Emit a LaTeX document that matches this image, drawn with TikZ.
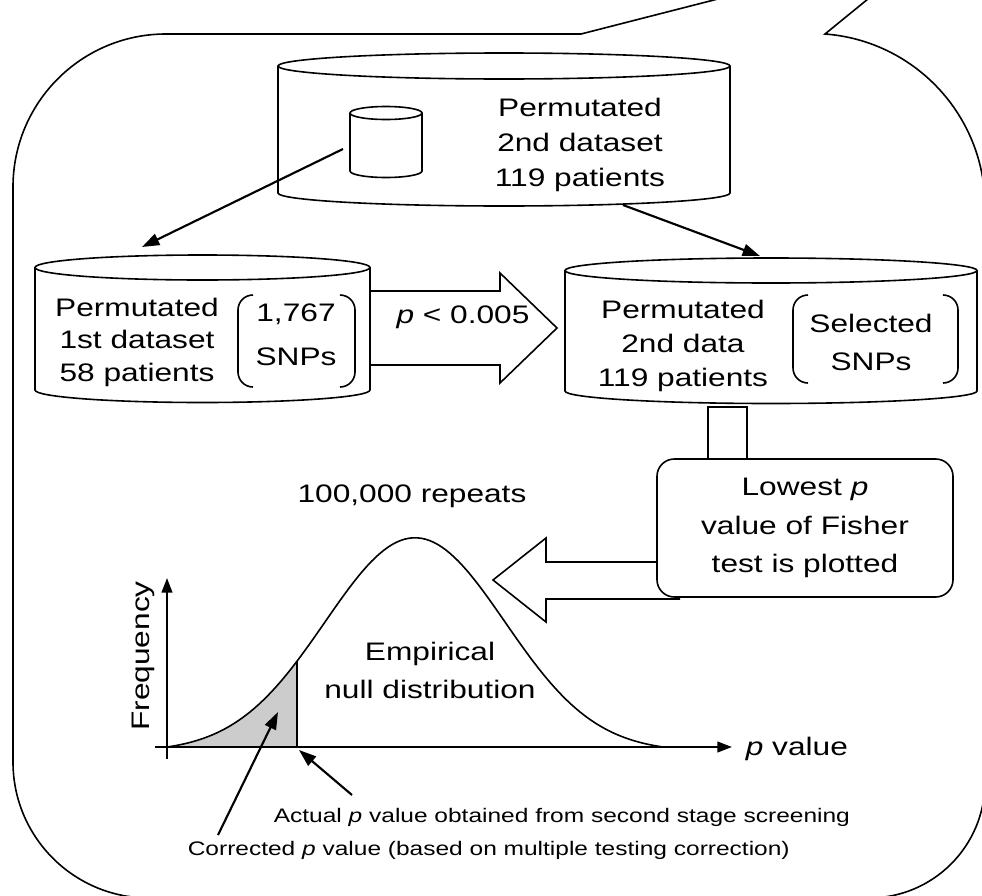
\documentclass[tikz,border=0pt]{standalone}
\usepackage{fontspec}
\setmainfont{Liberation Sans}[FakeStretch=1.25]
\usetikzlibrary{arrows.meta}

\tikzset{every picture/.style={line width=1.2pt}}
\tikzset{
  ptr/.style={line width=1.6pt,-{Triangle[length=13pt,width=9pt]}},
  axis/.style={line width=1.6pt,-{Triangle[length=11pt,width=8pt]}},
  bigtxt/.style={inner sep=0pt,align=center,font=\fontsize{19}{25}\selectfont},
  smalltxt/.style={inner sep=0pt,font=\fontsize{14.7}{18}\selectfont},
}

\begin{document}
\begin{tikzpicture}[x=0.75pt,y=0.75pt,yscale=-1,xscale=1]
\clip (0,0) rectangle (982,896);

%Shape: Callout
\draw (879,-10) -- (825,34) arc[start angle=274.3,end angle=360,radius=173] -- (985,782)
      arc[start angle=0,end angle=90,radius=116] -- (149,898)
      arc[start angle=90,end angle=180,radius=136] -- (13,187)
      arc[start angle=180,end angle=270,radius=153] -- (581,34) -- (753,-10) ;

%Shape: Can [top dataset]
\draw (278,66) -- (278,193) arc[start angle=180,end angle=0,x radius=226,y radius=13] -- (730,66) ;
\draw (504,66) ellipse [x radius=226,y radius=13] ;
%Shape: Can [small]
\draw (350,113) -- (350,171) arc[start angle=180,end angle=0,x radius=36,y radius=6.5] -- (422,113) ;
\draw (386,113) ellipse [x radius=36,y radius=6.5] ;
%Shape: Can [1st dataset]
\draw (35,267.5) -- (35,390) arc[start angle=180,end angle=0,x radius=167.5,y radius=12.5] -- (370,267.5) ;
\draw (202.5,267.5) ellipse [x radius=167.5,y radius=12.5] ;
%Shape: Can [2nd data]
\draw (565,270.5) -- (565,391) arc[start angle=180,end angle=0,x radius=206,y radius=12.5] -- (977,270.5) ;
\draw (771,270.5) ellipse [x radius=206,y radius=12.5] ;

%Brackets
\draw [rounded corners=11.25pt] (253,295) -- (238,295) -- (238,387) -- (253,387) ;
\draw [rounded corners=11.25pt] (340,295) -- (355,295) -- (355,387) -- (340,387) ;
\draw [rounded corners=11.25pt] (808,295) -- (793,295) -- (793,383) -- (808,383) ;
\draw [rounded corners=11.25pt] (943,295) -- (958,295) -- (958,383) -- (943,383) ;

%Block arrow [filter]
\draw (370,291) -- (500,291) -- (500,273) -- (557,328) -- (500,383) -- (500,365) -- (370,365) ;

%Stem
\draw (708,458) -- (708,407) -- (747,407) -- (747,458) ;

%Graph
\fill [gray!40] (167,747) -- plot[domain=167:297,samples=40] (\x,{747-(214*exp(-0.5*((\x-415)/90)^2)-4.8)}) -- (297,747) -- cycle ;
\draw (297,747) -- (297,661) ;
\draw plot[domain=167:663,samples=120] (\x,{747-(214*exp(-0.5*((\x-415)/90)^2)-4.8)}) ;
\coordinate (xstart) at (155,747) ;
\coordinate (xend) at (732,747) ;
\coordinate (ystart) at (167,759) ;
\coordinate (yend) at (167,578) ;
\draw [axis] (xstart) -- (xend) ;
\draw [axis] (ystart) -- (yend) ;

%Block arrow [plot]
\draw [fill=white] (680,562) -- (546,562) -- (546,538) -- (493,580) -- (546,622) -- (546,599) -- (680,599) ;

% Text Node
\node [bigtxt,draw,fill=white,rounded corners=13pt,minimum width=222pt,minimum height=103.5pt,font=\fontsize{19}{29}\selectfont] (lowbox) at (805,528) {Lowest \textit{p}\\value of Fisher\\test is plotted};
% Text Node
\node [bigtxt,font=\fontsize{19}{26}\selectfont] (toptxt) at (580,145) {Permutated\\2nd dataset\\119 patients};
% Text Node
\node [bigtxt,font=\fontsize{19}{24.4}\selectfont] (onetxt) at (137,342) {Permutated\\1st dataset\\58 patients};
% Text Node
\node [bigtxt,font=\fontsize{19}{33}\selectfont] (onesnp) at (296,334.5) {1,767\\SNPs};
% Text Node
\node [bigtxt,font=\fontsize{19}{25.5}\selectfont] (twotxt) at (683,346) {Permutated\\2nd data\\119 patients};
% Text Node
\node [bigtxt,font=\fontsize{19}{28.5}\selectfont] (twosnp) at (871,342) {Selected\\SNPs};
% Text Node
\node [bigtxt,anchor=base] (cutoff) at (463,323) {\textit{p} < 0.005};
% Text Node
\node [bigtxt,anchor=base] (repeats) at (412,502) {100,000 repeats};
% Text Node
\node [bigtxt,font=\fontsize{19}{28.5}\selectfont] (empirical) at (430,670) {Empirical\\null distribution};
% Text Node
\node [bigtxt,anchor=base west] (pval) at (745,755) {\textit{p} value};
% Text Node
\node [bigtxt,rotate=90] (freq) at (143,656) {Frequency};
% Text Node
\node [smalltxt,anchor=west] (actual) at (273,817) {Actual \textit{p} value obtained from second stage screening};
% Text Node
\node [smalltxt,anchor=west] (corrected) at (187,850) {Corrected \textit{p} value (based on multiple testing correction)};

%Arrows
\coordinate (smallcan) at (343,149) ;
\coordinate (onetop) at (142,247) ;
\coordinate (topbase) at (623,205) ;
\coordinate (twotop) at (760,256) ;
\coordinate (acttail) at (352,795) ;
\coordinate (acttip) at (299,750) ;
\coordinate (corrtail) at (218,835) ;
\coordinate (corrtip) at (278,712) ;
\draw [ptr] (smallcan) -- (onetop) ;
\draw [ptr] (topbase) -- (twotop) ;
\draw [ptr] (acttail) -- (acttip) ;
\draw [ptr] (corrtail) -- (corrtip) ;

\end{tikzpicture}
\end{document}
